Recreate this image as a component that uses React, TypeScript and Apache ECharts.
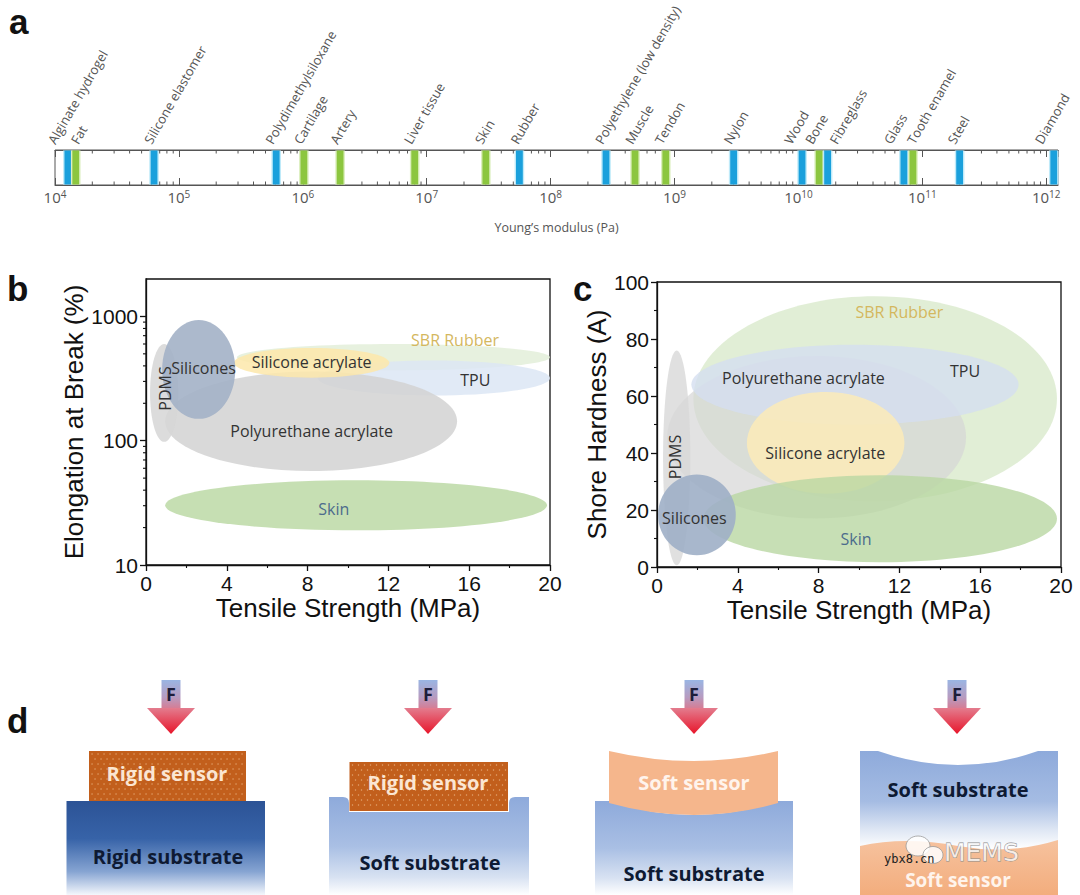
import React, { useEffect, useRef } from "react";
import * as echarts from "echarts";

// ---------- Panel a: Young's modulus scale ----------
const materialNames = [
  "Alginate hydrogel", "Fat", "Silicone elastomer", "Polydimethylsiloxane", "Cartilage",
  "Artery", "Liver tissue", "Skin", "Rubber", "Polyethylene (low density)", "Muscle",
  "Tendon", "Nylon", "Wood", "Bone", "Fibreglass", "Glass", "Tooth enamel", "Steel", "Diamond",
];
const materialModulusPa = [
  1.27e4, 1.47e4, 6.3e4, 6.1e5, 1.02e6,
  2.0e6, 8.0e6, 3.0e7, 5.6e7, 2.8e8, 4.8e8,
  8.5e8, 3.0e9, 1.07e10, 1.47e10, 1.72e10, 7.1e10, 8.4e10, 2.0e11, 1.15e12,
];
// 1 = biological (green), 0 = synthetic (blue)
const materialIsBiological = [0, 1, 0, 0, 1, 1, 1, 1, 0, 0, 1, 1, 0, 0, 1, 0, 0, 1, 0, 0];
const modulusDecades = [4, 5, 6, 7, 8, 9, 10, 11, 12];

// ---------- Panel b: elongation at break vs tensile strength ----------
const bNames = ["SBR Rubber", "TPU", "Polyurethane acrylate", "Silicone acrylate", "PDMS", "Silicones", "Skin"];
const bStrengthMin = [4.5, 8.5, 0.95, 4.35, 0.2, 0.8, 0.95];
const bStrengthMax = [20, 20, 15.4, 12.05, 1.6, 4.42, 19.85];
const bElongMin = [367, 231, 57, 321, 98, 150, 19];
const bElongMax = [600, 441, 360, 558, 600, 936, 48];
const bLabelStrength = [15.3, 16.3, 8.2, 8.2, 0.95, 2.85, 9.3];
const bLabelElong = [646, 309, 120, 428, 263, 385, 28];
const bElongTickLabels = [10, 100, 1000];
const bElongMinorTicks = [20, 30, 40, 50, 60, 70, 80, 90, 200, 300, 400, 500, 600, 700, 800, 900];

// ---------- Panel c: shore hardness vs tensile strength ----------
const cNames = ["SBR Rubber", "Polyurethane acrylate", "TPU", "Silicone acrylate", "Skin", "PDMS", "Silicones"];
const cStrengthMin = [1.8, 0.5, 1.7, 4.45, 2.3, 0.3, 0.05];
const cStrengthMax = [19.8, 15.3, 17.9, 12.25, 19.8, 1.65, 3.9];
const cHardMin = [23, 17, 50, 25.7, 1.7, 0.6, 4.1];
const cHardMax = [95, 74, 78, 61.4, 32.2, 76, 32.5];
const cLabelStrength = [12.0, 7.25, 15.25, 8.33, 9.85, 0.9, 1.85];
const cLabelHard = [89.5, 66.4, 68.8, 40, 10, 38.6, 17.3];

// ---------- styles ----------
const BLUE = "#1aa0dc";
const GREEN = "#8cc63f";
const AXIS_FONT = "Liberation Sans, Arial, sans-serif";
const LABEL_FONT = "Open Sans, Noto Sans, sans-serif";
const materialLabelShift = [-10, 5, 0, -1, 0, 0, -1, -1, 1, -1, 0, -1, 0, -8, -4, 12, -10, 4, -2, -9];

const bFill = ["#e3efd9", "#dce6f4", "#d2d2d2", "#fde8aa", "#d6d6d6", "#a3b1c6", "#bcd9a6"];
const bOpacity = [0.85, 0.85, 0.85, 0.85, 0.85, 0.9, 0.85];
const bLabelColor = ["#d4b75e", "#333333", "#333333", "#333333", "#333333", "#333333", "#4c6c8c"];
const bLabelRot = [0, 0, 0, 0, Math.PI / 2, 0, 0];

const cFill = ["#dcebcf", "#d6d6d6", "#d4dff0", "#fbebb8", "#b9d7a3", "#d8d8d8", "#9fafc6"];
const cOpacity = [0.85, 0.7, 0.8, 0.85, 0.8, 0.8, 0.9];
const cLabelColor = ["#d4b75e", "#333333", "#333333", "#333333", "#4c6c8c", "#333333", "#333333"];
const cLabelRot = [0, 0, 0, 0, 0, Math.PI / 2, 0];

// ---------- panel d shapes ----------
const SUB2_PATH = "M329,797 L343,797 Q349,797 349,803 L349,812 L509,812 L509,803 Q509,797 515,797 L529,797 L529,895 L329,895 Z";
const SUB3_PATH = "M595,801 L609,801 Q694,829 778,801 L793,801 L793,895 L595,895 Z";
const SENS3_PATH = "M609,751 Q694,771 778,751 L778,803 Q694,827 609,803 Z";
const SUB4_PATH = "M860,751 L878,751 Q958,779 1038,751 L1058,751 L1058,895 L860,895 Z";
const SENS4_PATH = "M860,846 Q905,836 958,846 Q1010,855 1058,840 L1058,895 L860,895 Z";
echarts.graphic.registerShape("dSub2", echarts.graphic.extendPath(SUB2_PATH, {}));
echarts.graphic.registerShape("dSub3", echarts.graphic.extendPath(SUB3_PATH, {}));
echarts.graphic.registerShape("dSens3", echarts.graphic.extendPath(SENS3_PATH, {}));
echarts.graphic.registerShape("dSub4", echarts.graphic.extendPath(SUB4_PATH, {}));
echarts.graphic.registerShape("dSens4", echarts.graphic.extendPath(SENS4_PATH, {}));

const vGrad = (stops: [number, string][]) =>
  new echarts.graphic.LinearGradient(0, 0, 0, 1, stops.map(([offset, color]) => ({ offset, color })));

function dotGrid(x0: number, y0: number, w: number, h: number, fill: string) {
  const out: any[] = [];
  let j = 0;
  for (let y = y0 + 3; y < y0 + h - 1; y += 5, j++) {
    for (let x = x0 + 3 + (j % 2) * 3; x < x0 + w - 1; x += 6) {
      out.push({ type: "circle", silent: true, shape: { cx: x, cy: y, r: 0.7 }, style: { fill } });
    }
  }
  return out;
}

function arrow(cx: number) {
  return [
    {
      type: "rect", shape: { x: cx - 9.5, y: 680, width: 19, height: 29 },
      style: { fill: vGrad([[0, "#9ab5e3"], [0.6, "#b79bc0"], [1, "#d77b92"]]) },
    },
    {
      type: "polygon", shape: { points: [[cx - 24, 708], [cx + 24, 708], [cx, 734]] },
      style: { fill: vGrad([[0, "#e37c8e"], [1, "#e8152a"]]) },
    },
    {
      type: "text", x: cx, y: 694,
      style: { text: "F", align: "center", verticalAlign: "middle", fontSize: 18, fontWeight: "bold", fontFamily: LABEL_FONT, fill: "#1d1d3a" },
    },
  ];
}

const dText = (x: number, y: number, text: string, fill: string, size = 20) => ({
  type: "text", x, y,
  style: { text, align: "center", verticalAlign: "middle", fontSize: size, fontWeight: "bold", fontFamily: LABEL_FONT, fill },
});

const panelLetter = (x: number, y: number, text: string) => ({
  type: "text", x, y,
  style: { text, align: "left", verticalAlign: "middle", fontSize: 35, fontWeight: "bold", fontFamily: AXIS_FONT, fill: "#111" },
});

function buildGraphic() {
  const softSub = vGrad([[0, "#8eaadb"], [0.5, "#a9bfe4"], [0.82, "#d8e2f2"], [1, "#ffffff"]]);
  const dotFill = "rgba(255,225,185,0.55)";
  const els: any[] = [
    panelLetter(9, 21, "a"),
    panelLetter(7, 288, "b"),
    panelLetter(573, 288, "c"),
    panelLetter(7, 720, "d"),
    // diagram 1
    ...arrow(171),
    { type: "rect", shape: { x: 66.5, y: 801, width: 198.5, height: 94 },
      style: { fill: vGrad([[0, "#2c5396"], [0.4, "#3763a8"], [0.75, "#86a4d2"], [1, "#f4f7fc"]]) } },
    { type: "rect", shape: { x: 89, y: 751, width: 157, height: 50 }, style: { fill: "#c25f1c" } },
    ...dotGrid(89, 751, 157, 50, dotFill),
    dText(167, 773, "Rigid sensor", "#fbe6d2"),
    dText(168, 856, "Rigid substrate", "#0e1a33"),
    // diagram 2
    ...arrow(428),
    { type: "dSub2", x: 0, y: 0, style: { fill: softSub } },
    { type: "rect", shape: { x: 349.5, y: 762, width: 158.5, height: 49 }, style: { fill: "#c25f1c" } },
    ...dotGrid(349.5, 762, 158.5, 49, dotFill),
    dText(428, 782, "Rigid sensor", "#fbe6d2"),
    dText(430, 862, "Soft substrate", "#0e1a33"),
    // diagram 3
    ...arrow(694),
    { type: "dSub3", x: 0, y: 0, style: { fill: softSub } },
    { type: "dSens3", x: 0, y: 0, style: { fill: "#f5b68c" } },
    dText(694, 782, "Soft sensor", "#fff4ec"),
    dText(694, 873, "Soft substrate", "#0e1a33"),
    // diagram 4
    ...arrow(957),
    { type: "dSub4", x: 0, y: 0,
      style: { fill: vGrad([[0, "#8eaadb"], [0.35, "#a5bce3"], [0.55, "#dfe7f4"], [0.68, "#ffffff"], [1, "#ffffff"]]) } },
    { type: "dSens4", x: 0, y: 0, style: { fill: vGrad([[0, "#f6c29e"], [1, "#f3ad7d"]]) } },
    dText(958, 789, "Soft substrate", "#0e1a33"),
    dText(958, 880, "Soft sensor", "#fff4ec", 19),
    // watermark
    { type: "ellipse", shape: { cx: 918, cy: 846, rx: 12, ry: 10 }, style: { fill: "rgba(255,255,255,0.85)", stroke: "#9a9a9a", lineWidth: 0.8 } },
    { type: "ellipse", shape: { cx: 933, cy: 855, rx: 10, ry: 8.5 }, style: { fill: "rgba(255,255,255,0.85)", stroke: "#9a9a9a", lineWidth: 0.8 } },
    { type: "text", x: 944, y: 852,
      style: { text: "MEMS", align: "left", verticalAlign: "middle", fontSize: 25, fontFamily: "DejaVu Sans, sans-serif",
        fill: "rgba(255,255,255,0.75)", stroke: "#8a8a8a", lineWidth: 0.8 } },
    { type: "text", x: 884, y: 859,
      style: { text: "ybx8.cn", align: "left", verticalAlign: "middle", fontSize: 12, fontFamily: "DejaVu Sans Mono, monospace", fill: "#222" } },
  ];
  return els;
}

function ellipseSeries(xAxisIndex: number, yAxisIndex: number, xMin: number[], xMax: number[], yMin: number[], yMax: number[], fills: string[], opac: number[]) {
  return {
    type: "custom", xAxisIndex, yAxisIndex, clip: false, silent: true,
    data: xMin.map((v, i) => [v, xMax[i], yMin[i], yMax[i]]),
    encode: { x: [0, 1], y: [2, 3] },
    renderItem: (params: any, api: any) => {
      const p0 = api.coord([api.value(0), api.value(2)]);
      const p1 = api.coord([api.value(1), api.value(3)]);
      return {
        type: "ellipse",
        shape: { cx: (p0[0] + p1[0]) / 2, cy: (p0[1] + p1[1]) / 2, rx: Math.abs(p1[0] - p0[0]) / 2, ry: Math.abs(p1[1] - p0[1]) / 2 },
        style: { fill: fills[params.dataIndex], opacity: opac[params.dataIndex] },
      };
    },
  };
}

function labelSeries(xAxisIndex: number, yAxisIndex: number, names: string[], lx: number[], ly: number[], colors: string[], rot: number[]) {
  return {
    type: "custom", xAxisIndex, yAxisIndex, clip: false, silent: true,
    data: lx.map((x, i) => [x, ly[i]]),
    encode: { x: 0, y: 1 },
    renderItem: (params: any, api: any) => {
      const p = api.coord([api.value(0), api.value(1)]);
      const i = params.dataIndex;
      return {
        type: "text", x: p[0], y: p[1], rotation: rot[i],
        style: { text: names[i], align: "center", verticalAlign: "middle", fontSize: 16, fontFamily: LABEL_FONT, fill: colors[i] },
      };
    },
  };
}

const blackAxis = {
  axisLine: { show: true, lineStyle: { color: "#111", width: 1.3 } },
  axisTick: { show: true, inside: false, length: 6, lineStyle: { color: "#111", width: 1.3 } },
  minorTick: { show: true, splitNumber: 2, length: 3, lineStyle: { color: "#111", width: 1.1 } },
  splitLine: { show: false },
  minorSplitLine: { show: false },
  axisLabel: { fontSize: 21, color: "#111", fontFamily: AXIS_FONT, margin: 8 },
  nameLocation: "middle" as const,
  nameTextStyle: { fontSize: 26, color: "#111", fontFamily: AXIS_FONT },
};

function buildOption() {
  const minorExps: number[] = [];
  modulusDecades.slice(0, -1).forEach((e) => {
    for (let k = 2; k <= 9; k++) minorExps.push(e + Math.log10(k));
  });

  return {
    animation: false,
    backgroundColor: "#ffffff",
    textStyle: { fontFamily: AXIS_FONT },
    graphic: buildGraphic(),
    grid: [
      { left: 55, top: 150, width: 1003, height: 35, show: true, borderColor: "#555", borderWidth: 1, outerBoundsMode: "none" },
      { left: 146, top: 279, width: 404, height: 286, show: true, borderColor: "#111", borderWidth: 1.3, outerBoundsMode: "none" },
      { left: 657, top: 282, width: 404, height: 285, show: true, borderColor: "#111", borderWidth: 1.3, outerBoundsMode: "none" },
    ],
    xAxis: [
      {
        gridIndex: 0, type: "value", min: 4, max: 12.095, interval: 1, position: "bottom",
        axisLine: { show: true, lineStyle: { color: "#555", width: 1 } },
        axisTick: { show: true, inside: true, length: 7, lineStyle: { color: "#555" } },
        splitLine: { show: false },
        axisLabel: {
          margin: 4, color: "#555", fontSize: 15, fontFamily: LABEL_FONT, showMaxLabel: false,
          formatter: (v: number) => (Math.abs(v - Math.round(v)) < 1e-6 && modulusDecades.includes(Math.round(v)) ? `10{s|${Math.round(v)}}` : ""),
          rich: { s: { fontSize: 10, verticalAlign: "top", color: "#555", fontFamily: LABEL_FONT } },
        },
        name: "Young’s modulus (Pa)", nameLocation: "middle", nameGap: 36,
        nameTextStyle: { fontSize: 12.5, color: "#555", fontFamily: LABEL_FONT },
      },
      {
        gridIndex: 0, type: "value", min: 4, max: 12.095, interval: 1, position: "top",
        axisLine: { show: true, lineStyle: { color: "#555", width: 1 } },
        axisTick: { show: true, inside: true, length: 7, lineStyle: { color: "#555" } },
        splitLine: { show: false }, axisLabel: { show: false },
      },
      { gridIndex: 1, type: "value", min: 0, max: 20, interval: 4, ...blackAxis, name: "Tensile Strength (MPa)", nameGap: 30 },
      { gridIndex: 2, type: "value", min: 0, max: 20, interval: 4, ...blackAxis, name: "Tensile Strength (MPa)", nameGap: 30 },
    ],
    yAxis: [
      { gridIndex: 0, type: "value", min: 0, max: 1, show: false },
      {
        gridIndex: 1, type: "log", logBase: 10, min: 10, max: 2000, ...blackAxis,
        minorTick: { show: false },
        axisLabel: {
          ...blackAxis.axisLabel, showMaxLabel: false,
          formatter: (v: number) => (bElongTickLabels.includes(Math.round(v)) ? String(Math.round(v)) : ""),
        },
        name: "Elongation at Break (%)", nameGap: 57,
      },
      { gridIndex: 2, type: "value", min: 0, max: 100, interval: 20, ...blackAxis, name: "Shore Hardness (A)", nameGap: 47 },
    ],
    series: [
      // panel a minor ticks
      {
        type: "custom", xAxisIndex: 0, yAxisIndex: 0, clip: false, silent: true,
        data: minorExps.map((e) => [e, 0]), encode: { x: 0, y: 1 },
        renderItem: (params: any, api: any) => {
          const top = api.coord([api.value(0), 1]);
          const bot = api.coord([api.value(0), 0]);
          return {
            type: "group", children: [
              { type: "line", shape: { x1: top[0], y1: top[1], x2: top[0], y2: top[1] + 3.5 }, style: { stroke: "#555", lineWidth: 1 } },
              { type: "line", shape: { x1: bot[0], y1: bot[1], x2: bot[0], y2: bot[1] - 3.5 }, style: { stroke: "#555", lineWidth: 1 } },
            ],
          };
        },
      },
      // panel a material bars + labels
      {
        type: "custom", xAxisIndex: 0, yAxisIndex: 0, clip: false, silent: true,
        data: materialModulusPa.map((v, i) => [Math.log10(v), materialIsBiological[i]]), encode: { x: 0, y: 1 },
        renderItem: (params: any, api: any) => {
          const i = params.dataIndex;
          const top = api.coord([api.value(0), 1]);
          const bot = api.coord([api.value(0), 0]);
          const bio = api.value(1) === 1;
          const h = bot[1] - top[1];
          return {
            type: "group", children: [
              { type: "rect", shape: { x: top[0] - 4.8, y: top[1] + 0.5, width: 9.6, height: h - 1 }, style: { fill: bio ? "#dcefbf" : "#bfeaf9" } },
              { type: "rect", shape: { x: top[0] - 3.4, y: top[1] + 0.5, width: 6.8, height: h - 1 }, style: { fill: bio ? GREEN : BLUE } },
              {
                type: "text", x: top[0] - 1 + materialLabelShift[i], y: top[1] - 4, rotation: Math.PI / 3,
                style: { text: materialNames[i], align: "left", verticalAlign: "bottom", fontSize: 13, fontFamily: LABEL_FONT, fill: "#555" },
              },
            ],
          };
        },
      },
      // panel b
      ellipseSeries(2, 1, bStrengthMin, bStrengthMax, bElongMin, bElongMax, bFill, bOpacity),
      labelSeries(2, 1, bNames, bLabelStrength, bLabelElong, bLabelColor, bLabelRot),
      {
        type: "custom", xAxisIndex: 2, yAxisIndex: 1, clip: false, silent: true,
        data: bElongMinorTicks.map((v) => [0, v]), encode: { x: 0, y: 1 },
        renderItem: (params: any, api: any) => {
          const p = api.coord([0, api.value(1)]);
          return { type: "line", shape: { x1: p[0] - 3, y1: p[1], x2: p[0], y2: p[1] }, style: { stroke: "#111", lineWidth: 1.1 } };
        },
      },
      // panel c
      ellipseSeries(3, 2, cStrengthMin, cStrengthMax, cHardMin, cHardMax, cFill, cOpacity),
      labelSeries(3, 2, cNames, cLabelStrength, cLabelHard, cLabelColor, cLabelRot),
    ],
  };
}

export default function App() {
  const ref = useRef<HTMLDivElement>(null);
  useEffect(() => {
    if (!ref.current) return;
    const chart = echarts.init(ref.current, undefined, { renderer: "svg" });
    chart.setOption(buildOption() as any);
    return () => chart.dispose();
  }, []);
  return (
    <div
      ref={ref}
      style={{ position: "absolute", left: 0, top: 0, width: 1080, height: 895, background: "#fff" }}
    />
  );
}
